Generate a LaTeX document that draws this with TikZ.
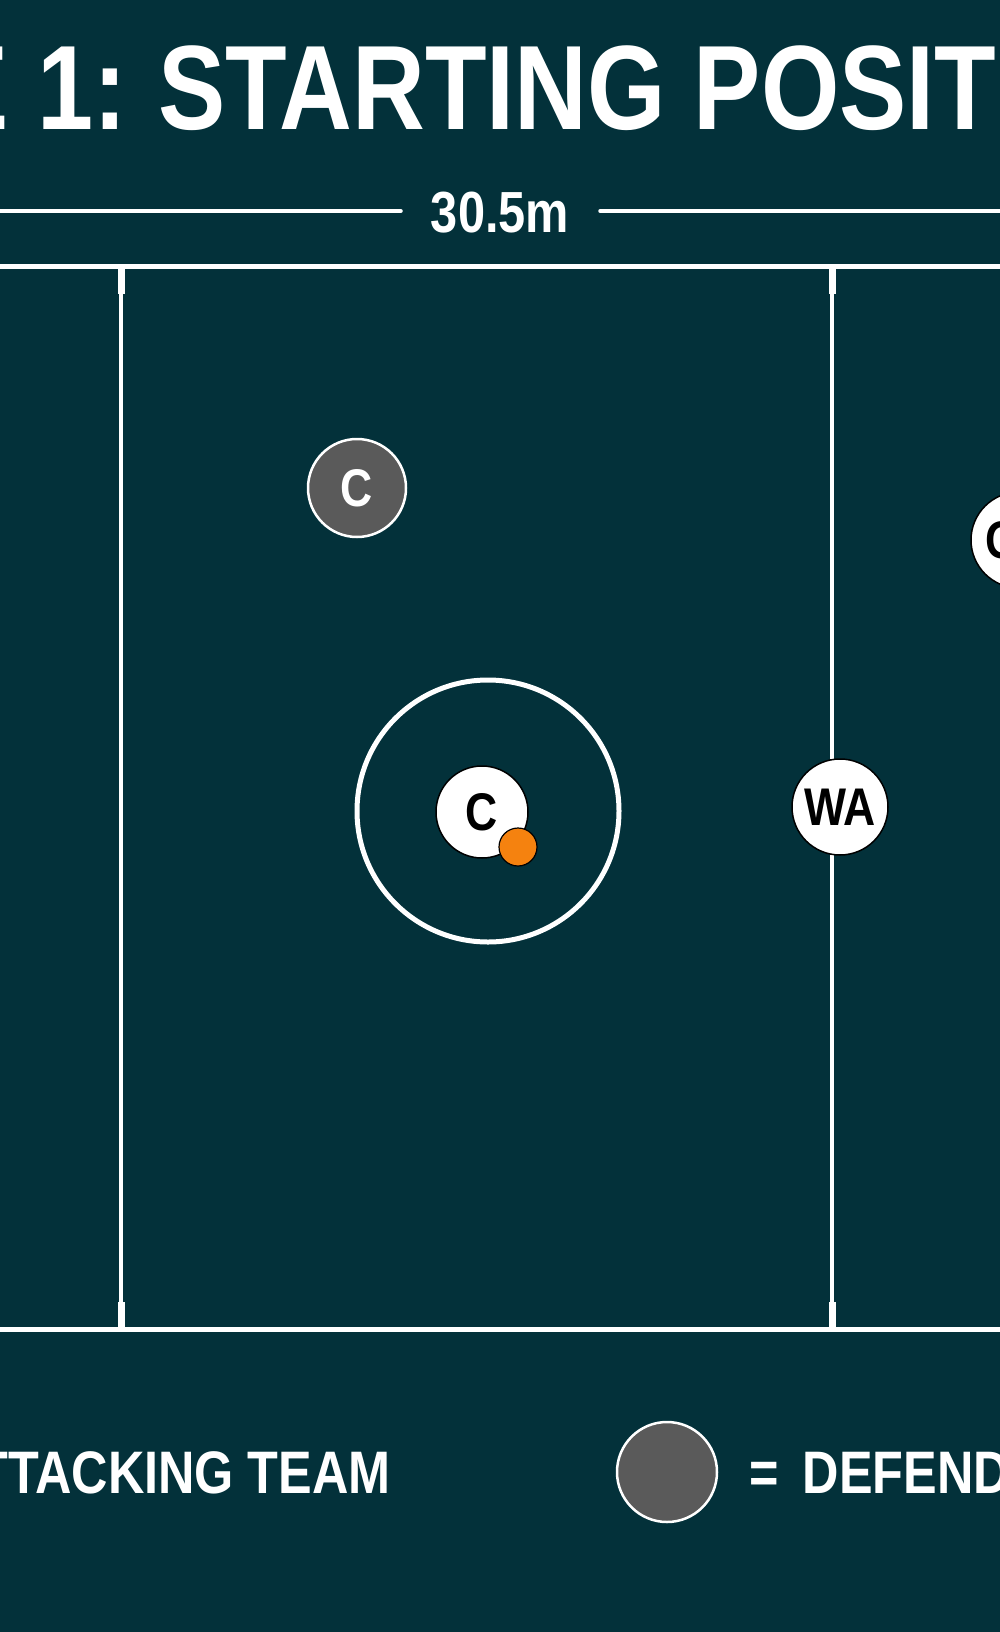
\documentclass[tikz,border=0pt]{standalone}
\usepackage{fontspec}
\setmainfont{Liberation Sans}[FakeStretch=0.84]
\definecolor{courtteal}{RGB}{3,49,58}
\definecolor{defgrey}{RGB}{90,90,90}
\definecolor{ballorange}{RGB}{245,130,15}

\begin{document}
\begin{tikzpicture}[x=1pt,y=-1pt,
   attacker/.style={circle,draw=black,line width=1.5pt,fill=white,inner sep=0pt,text=black,
      font=\fontsize{53}{53}\selectfont\bfseries},
   defender/.style={circle,draw=white,line width=2.5pt,fill=defgrey,inner sep=0pt,text=white,
      font=\fontsize{53}{53}\selectfont\bfseries},
   courtline/.style={white,line width=5pt},
   caption/.style={inner sep=0pt,text=white,font=\fontsize{60}{60}\selectfont\bfseries}]
   \fill[courtteal] (0,0) rectangle (1000,1632);
   \useasboundingbox (0,0) rectangle (1000,1632);
   \clip (0,0) rectangle (1000,1632);
   \node[caption,anchor=base west,font=\fontsize{120}{120}\selectfont\bfseries] (titleR) at (158,130) {STARTING POSITIONS};
   \node[caption,anchor=base east,font=\fontsize{120}{120}\selectfont\bfseries] (titleL) at (127,130) {PHASE 1:};
   \node[caption,anchor=base,font=\fontsize{58}{58}\selectfont\bfseries] (width) at (500,233) {30.5m};
   \coordinate (dimL) at (-10,211);
   \coordinate (gapL) at (401,211);
   \coordinate (gapR) at (600,211);
   \coordinate (dimR) at (1010,211);
   \draw[white,line width=3.5pt,line cap=round] (dimL) -- (gapL);
   \draw[white,line width=3.5pt,line cap=round] (gapR) -- (dimR);
   \draw[courtline] (-10,266) -- (1010,266);
   \draw[courtline] (-10,1329) -- (1010,1329);
   \draw[white,line width=4pt] (121,266) -- (121,1329);
   \draw[white,line width=4pt] (832,266) -- (832,1329);
   \draw[white,line width=7pt] (121,266) -- (121,294);
   \draw[white,line width=7pt] (121,1302) -- (121,1329);
   \draw[white,line width=7pt] (832,266) -- (832,294);
   \draw[white,line width=7pt] (832,1302) -- (832,1329);
   \draw[white,line width=5pt] (488,811) circle[radius=131];
   \node[defender,minimum size=98pt] (defC) at (357,488) {C};
   \node[attacker,minimum size=92pt] (attC) at (482,812) {C};
   \node[circle,draw=black,line width=1.2pt,fill=ballorange,minimum size=38pt,inner sep=0pt] (ball) at (518,847) {};
   \node[attacker,minimum size=96pt] (attWA) at (840,807) {WA};
   \node[attacker,minimum size=96pt] (attGA) at (1019,540) {GA};
   \node[caption,anchor=base east] (keyAtt) at (391,1493) {ATTACKING TEAM};
   \node[defender,minimum size=100pt] (keyDef) at (667,1472) {};
   \node[caption,anchor=base west] (keyDefText) at (749,1493) {=\hspace{10pt} DEFENDING TEAM};
\end{tikzpicture}
\end{document}
